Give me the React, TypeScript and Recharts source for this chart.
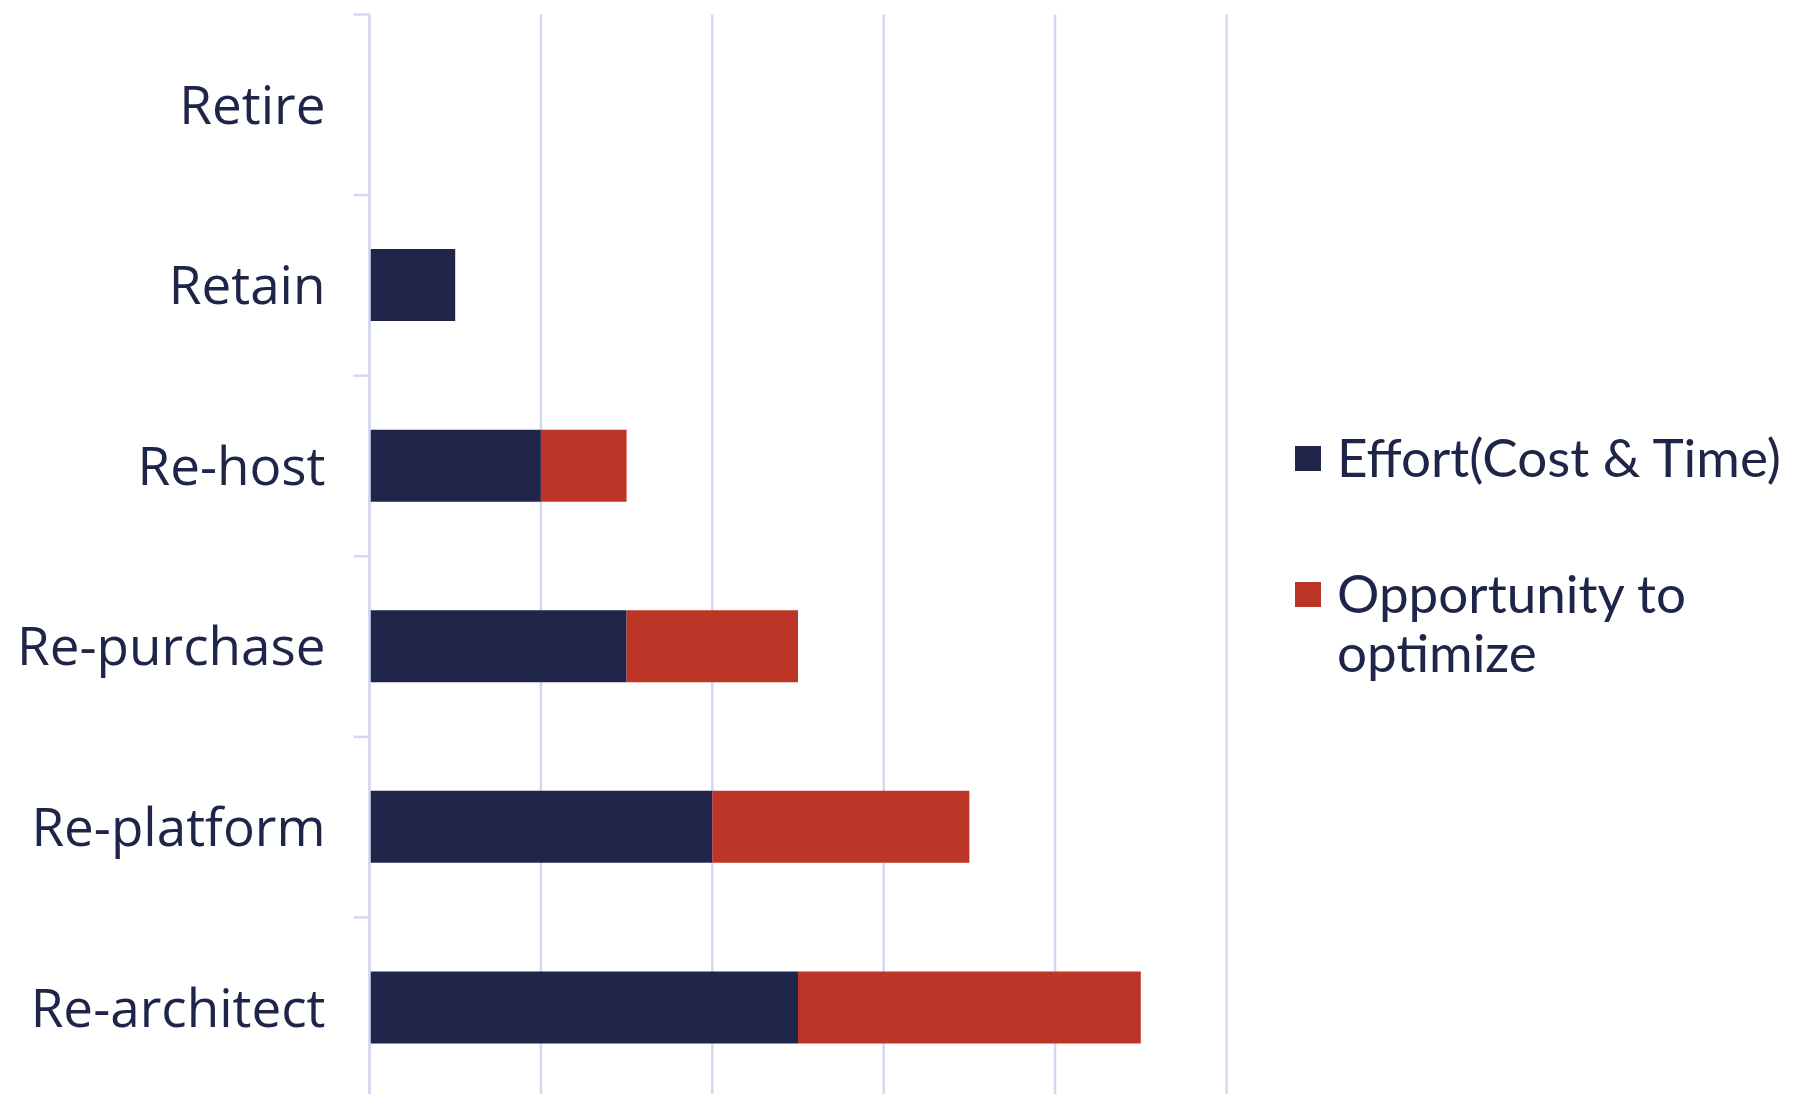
import { Bar, BarChart, CartesianGrid, Legend, XAxis, YAxis } from "recharts"

const strategies = ["Retire", "Retain", "Re-host", "Re-purchase", "Re-platform", "Re-architect"]
const effort = [0, 0.5, 1, 1.5, 2, 2.5]
const opportunity = [0, 0, 0.5, 1, 1.5, 2]
const valueTicks = [0, 1, 2, 3, 4, 5]

const data = strategies.map((name, i) => ({ name, effort: effort[i], opportunity: opportunity[i] }))

const NAVY = "#20264A"
const RED = "#BD3526"
const GRID = "#D3D8F0"
const TEXT = "#1F2548"
const LABEL_GAP = 44
const TICK_LEN = 16

const blank = () => ""

// category label plus a short tick at the upper edge of each band
function CategoryTick({ x, y, payload, index, visibleTicksCount }: any) {
  const axisX = x + LABEL_GAP
  const half = payload.offset || 0
  return (
    <g>
      <line x1={axisX - TICK_LEN} x2={axisX} y1={y - half} y2={y - half} stroke={GRID} strokeWidth={2.5} />
      {index === visibleTicksCount - 1 && (
        <line x1={axisX - TICK_LEN} x2={axisX} y1={y + half} y2={y + half} stroke={GRID} strokeWidth={2.5} />
      )}
      <text x={x} y={y} dy="0.355em" textAnchor="end" fontFamily="Open Sans" fontSize={53} fill={TEXT}>
        {payload.value}
      </text>
    </g>
  )
}

function LegendContent({ payload }: any) {
  return (
    <div style={{ fontFamily: "Lato", fontSize: 53, lineHeight: "59px", color: TEXT }}>
      {(payload || []).map((p: any, i: number) => (
        <div key={p.value} style={{ display: "flex", alignItems: "flex-start", marginBottom: i === 0 ? 77 : 0 }}>
          <span
            style={{ width: 26, height: 25, marginTop: 19, marginRight: 16, background: p.color, flex: "none" }}
          />
          <span style={{ width: 460 }}>{p.value}</span>
        </div>
      ))}
    </div>
  )
}

export default function App() {
  return (
    <div>
      <style>{"html,body{margin:0;overflow:hidden;background:#fff}"}</style>
      <BarChart
        width={1797}
        height={1099}
        data={data}
        layout="vertical"
        margin={{ top: 14.5, right: 570.5, bottom: 0, left: 368.5 }}
      >
        <CartesianGrid horizontal={false} stroke={GRID} strokeWidth={2.5} />
        <XAxis
          type="number"
          domain={[0, 5]}
          ticks={valueTicks}
          interval={0}
          height={1}
          tickFormatter={blank}
          axisLine={false}
          tickLine={false}
        />
        <YAxis
          type="category"
          dataKey="name"
          width={1}
          interval={0}
          tickSize={0}
          tickMargin={LABEL_GAP}
          axisLine={{ stroke: GRID, strokeWidth: 2.5 }}
          tickLine={false}
          tick={<CategoryTick />}
        />
        <Bar
          dataKey="effort"
          name="Effort(Cost & Time)"
          stackId="s"
          fill={NAVY}
          barSize={72}
          isAnimationActive={false}
        />
        <Bar
          dataKey="opportunity"
          name="Opportunity to optimize"
          stackId="s"
          fill={RED}
          barSize={72}
          isAnimationActive={false}
        />
        <Legend
          layout="vertical"
          align="center"
          verticalAlign="middle"
          content={<LegendContent />}
          wrapperStyle={{ left: 1295, top: 427, width: 502 }}
        />
      </BarChart>
    </div>
  )
}
